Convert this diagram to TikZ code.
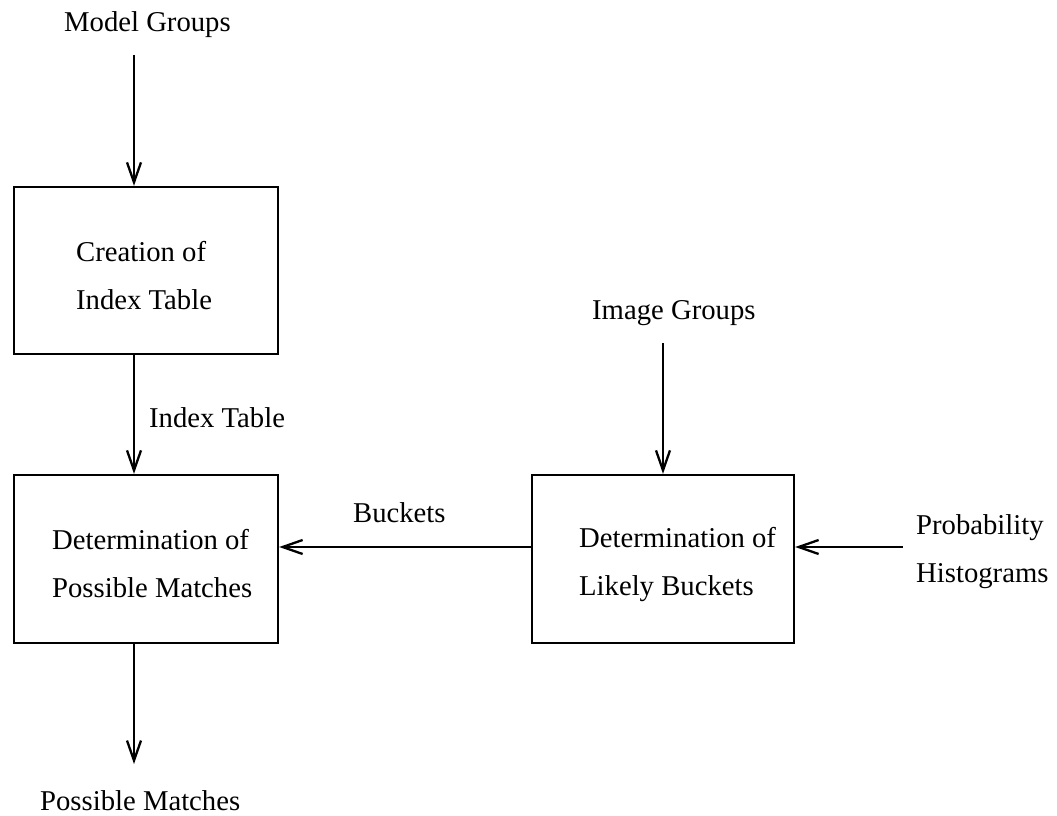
\documentclass[tikz,border=0pt]{standalone}
\usepackage{fontspec}
\setmainfont{Liberation Serif}
\usetikzlibrary{arrows.meta}
\begin{document}
\begin{tikzpicture}[x=1pt,y=-1pt,
  line width=2.3pt,
  every node/.style={font=\fontsize{28.7}{48}\selectfont, inner sep=0pt},
  stage/.style={draw, minimum width=264pt, minimum height=167pt},
  blocktext/.style={align=left, anchor=west},
  flow/.style={-{Straight Barb[length=20pt,width=14pt,line width=2.3pt]}}
]
\useasboundingbox (0,0) rectangle (1057,816);

% processing stages
\node[stage] (create) at (146,270.5) {};
\node[stage, minimum height=168pt] (possible) at (146,559) {};
\node[stage, minimum width=262pt, minimum height=168pt] (likely) at (663,559) {};

\node[blocktext] (createtxt) at (75,276) {Creation of\\Index Table};
\node[blocktext] (possibletxt) at (51,564) {Determination of\\Possible Matches};
\node[blocktext] (likelytxt) at (578,564) {Determination of\\Likely Buckets};

% inputs and outputs
\node[anchor=base west] (model) at (63,32) {Model Groups};
\node[anchor=base west] (image) at (591,319) {Image Groups};
\node[blocktext] (prob) at (915,551.5) {Probability\\Histograms};
\node[anchor=base west] (matches) at (39,810) {Possible Matches};

% edge labels
\node[anchor=base west] (indexlbl) at (148,427) {Index Table};
\node[anchor=base west] (bucketlbl) at (352,522) {Buckets};

% connector end points
\coordinate (modeltail) at (134,55);
\coordinate (imagetail) at (663,343);
\coordinate (probtail) at (903,547);
\coordinate (outhead) at (134,764);

% connectors
\draw[flow] (modeltail) -- (modeltail |- create.north);
\draw[flow] (modeltail |- create.south) -- (modeltail |- possible.north);
\draw[flow] (modeltail |- possible.south) -- (outhead);
\draw[flow] (imagetail) -- (imagetail |- likely.north);
\draw[flow] (probtail) -- (probtail -| likely.east);
\draw[flow] (probtail -| likely.west) -- (probtail -| possible.east);
\end{tikzpicture}
\end{document}
